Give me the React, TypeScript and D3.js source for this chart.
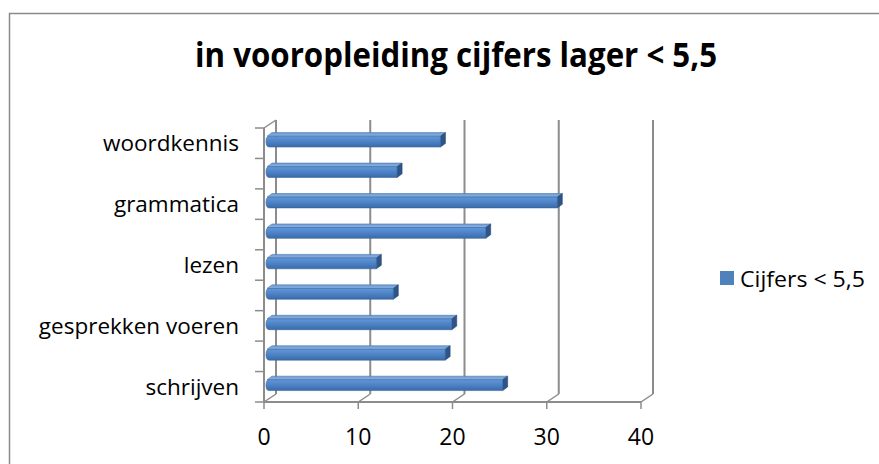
import React from "react";
import * as d3 from "d3";

const categories = [
  "schrijven",
  "spreken",
  "gesprekken voeren",
  "luisteren",
  "lezen",
  "spelling",
  "grammatica",
  "uitspraak",
  "woordkennis",
];
const values = [25.0, 18.9, 19.6, 13.4, 11.6, 23.2, 30.8, 13.8, 18.4];
const shownLabels = ["schrijven", "gesprekken voeren", "lezen", "grammatica", "woordkennis"];
const xTicks = [0, 10, 20, 30, 40];
const title = "in vooropleiding cijfers lager < 5,5";
const seriesName = "Cijfers < 5,5";

const W = 879;
const H = 464;
const DX = 12;
const DY = -8;
const FONT = "'Open Sans', 'Liberation Sans', sans-serif";
const GRID = "#8c8c8c";

export default function App() {
  const xFront = d3.scaleLinear().domain([0, 40]).range([264, 641]);
  const xBar = d3.scaleLinear().domain([0, 40]).range([267, 644]);
  const y = d3.scaleBand<string>().domain(categories).range([402, 128]).paddingInner(0).paddingOuter(0);
  const bw = y.bandwidth();
  const yTop = 128;
  const yBot = 402;
  const boundaries = d3.range(categories.length + 1).map((i) => yTop + i * bw);

  return (
    <svg width={W} height={H} style={{ position: "absolute", left: 0, top: 0, background: "#fff" }}>
      <defs>
        <linearGradient id="barFront" x1="0" y1="0" x2="0" y2="1">
          <stop offset="0" stopColor="#6298d8" />
          <stop offset="0.5" stopColor="#4c82c6" />
          <stop offset="1" stopColor="#3b6aa8" />
        </linearGradient>
        <linearGradient id="barTop" x1="0" y1="0" x2="0" y2="1">
          <stop offset="0" stopColor="#6f9ad0" />
          <stop offset="1" stopColor="#8cb4e4" />
        </linearGradient>
      </defs>
      <rect x={9.5} y={13.5} width={W} height={H} fill="#fff" stroke="#8a8a8a" strokeWidth={1.5} />

      <text
        x={456}
        y={67}
        textAnchor="middle"
        fontFamily={FONT}
        fontWeight="bold"
        fontSize={34}
        textLength={522}
        lengthAdjust="spacingAndGlyphs"
        fill="#000"
      >
        {title}
      </text>

      {/* back wall gridlines */}
      {xTicks.map((t) => (
        <line
          key={"g" + t}
          x1={xFront(t) + DX}
          x2={xFront(t) + DX}
          y1={yTop + DY}
          y2={yBot + DY}
          stroke={GRID}
          strokeWidth={2}
        />
      ))}
      {/* floor diagonals */}
      {xTicks.map((t) => (
        <line
          key={"d" + t}
          x1={xFront(t)}
          x2={xFront(t) + DX}
          y1={yBot}
          y2={yBot + DY}
          stroke={GRID}
          strokeWidth={1.5}
        />
      ))}
      {/* left wall */}
      <line x1={264} x2={264} y1={yTop} y2={yBot} stroke={GRID} strokeWidth={2} />
      <line x1={264} x2={264 + DX} y1={yTop} y2={yTop + DY} stroke={GRID} strokeWidth={1.5} />
      {/* floor front edge */}
      <line x1={264} x2={641} y1={yBot} y2={yBot} stroke={GRID} strokeWidth={2} />
      {/* category ticks */}
      {boundaries.map((b, i) => (
        <line key={"ct" + i} x1={255} x2={264} y1={b} y2={b} stroke={GRID} strokeWidth={1.5} />
      ))}
      {/* value ticks */}
      {xTicks.map((t) => (
        <line key={"vt" + t} x1={xFront(t)} x2={xFront(t)} y1={yBot} y2={yBot + 7} stroke={GRID} strokeWidth={1.5} />
      ))}

      {/* bars */}
      {categories.map((c, i) => {
        const center = (y(c) as number) + bw / 2;
        const x0 = xBar(0);
        const x1 = xBar(values[i]);
        const ft = center - 7;
        const fb = center + 3.8;
        const td = 3.6;
        const tdx = 5;
        return (
          <g key={"b" + i}>
            <path
              d={`M${x0},${ft} L${x0 + tdx},${ft - td} L${x1 + tdx},${ft - td} L${x1},${ft} Z`}
              fill="url(#barTop)"
              stroke="#4a78b2"
              strokeWidth={0.6}
            />
            <path
              d={`M${x1},${ft} L${x1 + tdx},${ft - td} L${x1 + tdx},${fb - td} L${x1},${fb} Z`}
              fill="#2d5588"
              stroke="#24466f"
              strokeWidth={0.6}
            />
            <path
              d={`M${x0 + 2},${ft} L${x1},${ft} L${x1},${fb} L${x0 + 2},${fb} Q${x0 - 1},${fb} ${x0 - 1},${(ft + fb) / 2} Q${x0 - 1},${ft} ${x0 + 2},${ft} Z`}
              fill="url(#barFront)"
              stroke="#3a66a0"
              strokeWidth={0.6}
            />
          </g>
        );
      })}

      {/* category labels */}
      {categories.map((c) =>
        shownLabels.includes(c) ? (
          <text
            key={"l" + c}
            x={239}
            y={(y(c) as number) + bw / 2 + 8}
            textAnchor="end"
            fontFamily={FONT}
            fontSize={22.5}
            fill="#000"
          >
            {c}
          </text>
        ) : null
      )}

      {/* value tick labels */}
      {xTicks.map((t) => (
        <text
          key={"xl" + t}
          x={xFront(t)}
          y={445}
          textAnchor="middle"
          fontFamily={FONT}
          fontSize={23}
          fill="#000"
        >
          {t}
        </text>
      ))}

      {/* legend */}
      <rect x={720} y={271} width={14} height={14} fill="#4f81bd" />
      <text x={740} y={287} fontFamily={FONT} fontSize={21} textLength={125} lengthAdjust="spacingAndGlyphs" fill="#000">
        {seriesName}
      </text>
    </svg>
  );
}
